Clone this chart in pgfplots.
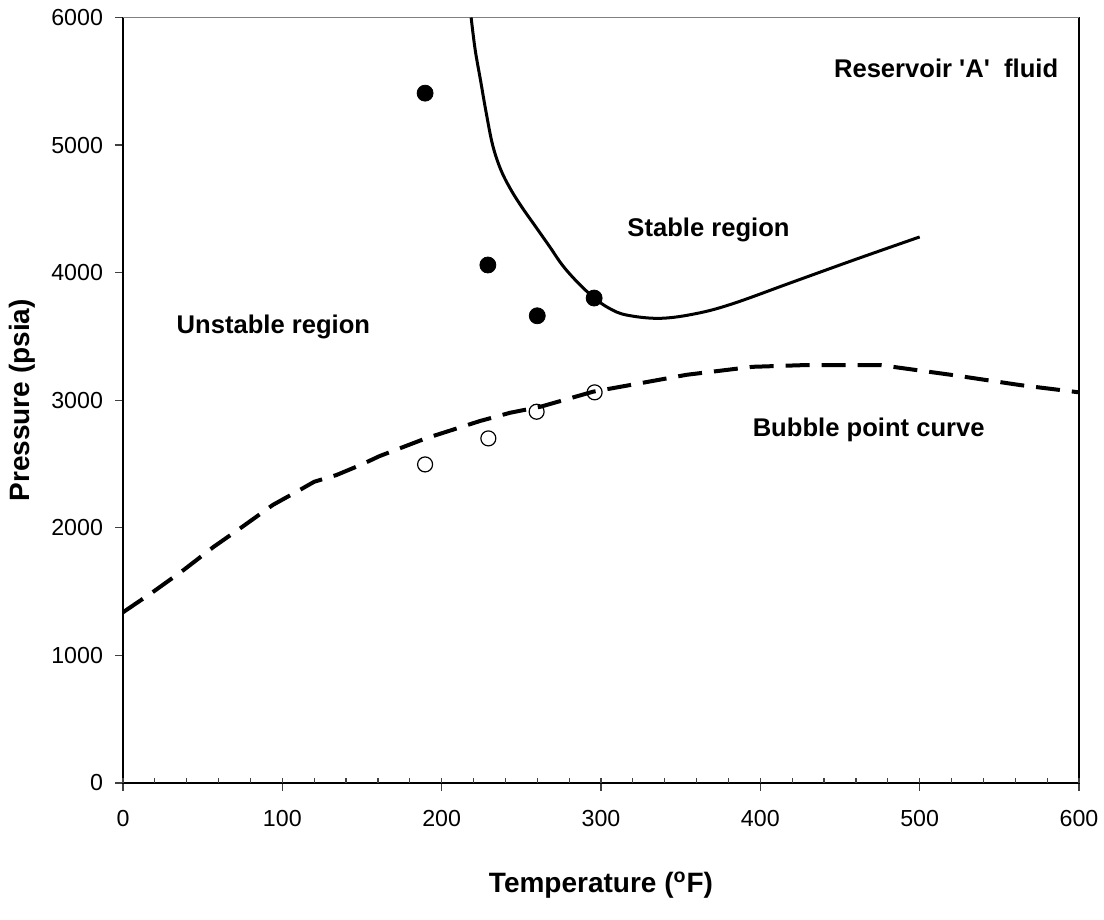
\documentclass[border=0pt]{standalone}
\usepackage{pgfplots}
\pgfplotsset{compat=1.18}
\usepackage{fontspec}
\setmainfont{Liberation Sans}

\begin{document}
\begin{tikzpicture}
\path[use as bounding box] (-61.5pt,-68.5pt) rectangle (490.5pt,391.5pt);
\begin{axis}[
  at={(0,0)}, anchor=south west,
  scale only axis, width=478pt, height=382.75pt,
  xmin=0, xmax=600, ymin=0, ymax=6000,
  xtick={0,100,...,600}, ytick={0,1000,...,6000},
  tick pos=left,
  tick align=outside, major tick length=4pt,
  extra x ticks={0,20,...,600}, extra x tick labels={},
  extra x tick style={major tick length=2.5pt, tick align=inside},
  tick style={black!75, line width=0.6pt},
  axis line style={line width=0.8pt},
  /pgf/number format/1000 sep={},
  /pgf/number format/assume math mode=true,
  ticklabel style={font=\fontsize{11.6}{13}\selectfont},
  xticklabel style={yshift=-6pt},
  yticklabel style={xshift=-2.5pt},
  xlabel={\bfseries Temperature (\textsuperscript{o}F)},
  ylabel={\bfseries Pressure (psia)},
  label style={font=\fontsize{14}{16}\selectfont},
  xlabel style={at={(axis description cs:0.5,-0.1332)}, anchor=center},
  ylabel style={at={(axis description cs:-0.1051,0.5)}, anchor=center},
  clip=true,
]
% top border in gray
\draw[gray, line width=0.8pt] (rel axis cs:0,1) -- (rel axis cs:1,1);

% bubble point curve
\addplot[black, line width=2pt, dash pattern=on 12pt off 6pt] coordinates {
(0,1338) (19,1499) (38,1669) (57,1852) (75,2009) (94,2179) (109,2283)
(120,2361) (134,2414) (149,2492) (161,2562) (190,2701) (224,2837)
(243,2902) (262,2949) (295,3067) (324,3132) (354,3200) (395,3262)
(429,3276) (475,3276) (521,3197) (563,3119) (600,3062)
};

% stability boundary
\addplot[black, line width=1.5pt, smooth, tension=0.6] coordinates {
(218.5,6000) (221,5750) (224.5,5500) (228,5250) (232,5000) (237,4810)
(243,4660) (250,4520) (259,4360) (268,4200) (276,4055) (286,3915)
(296,3800) (305,3722) (316,3668) (337,3642) (360,3680) (383,3758)
(420,3925) (460,4105) (500,4280)
};

% filled points
\addplot[only marks, mark=*, mark size=4pt, black] coordinates {
(189.6,5407) (229,4060) (260,3662) (295.7,3801)
};

% open points
\addplot[only marks, mark=o, mark size=3.75pt, black, mark options={line width=0.6pt}] coordinates {
(189.6,2497) (229.3,2701) (259.6,2910) (296,3062)
};

\node[font=\bfseries\fontsize{12.8}{15}\selectfont] at (axis cs:516.6,5603) {Reservoir \textquotesingle A\textquotesingle\ \ fluid};
\node[font=\bfseries\fontsize{12.8}{15}\selectfont] at (axis cs:367.5,4334) {Stable region};
\node[font=\bfseries\fontsize{12.8}{15}\selectfont] at (axis cs:94.4,3576) {Unstable region};
\node[font=\bfseries\fontsize{12.8}{15}\selectfont] at (axis cs:468,2766) {Bubble point curve};
\end{axis}
\end{tikzpicture}
\end{document}
